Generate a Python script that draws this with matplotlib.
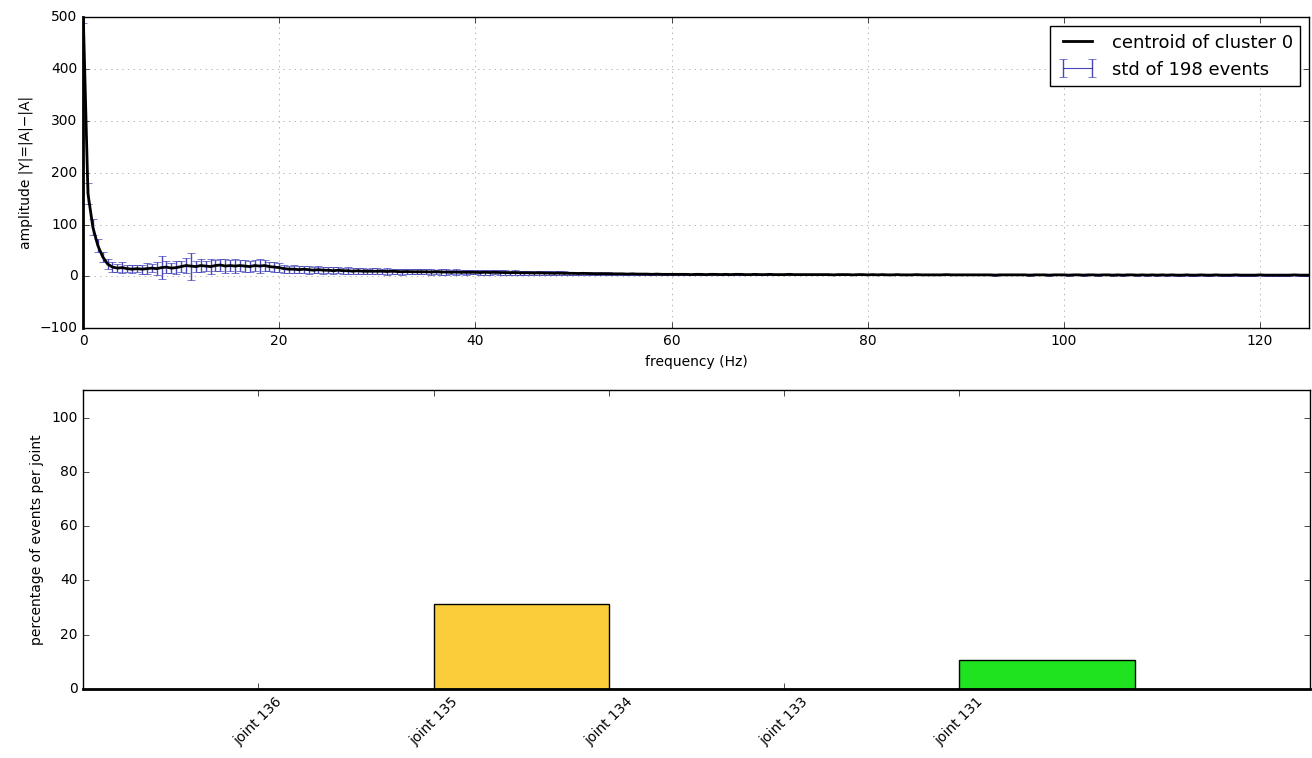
import numpy as np
from matplotlib import pyplot

# frequency axis, 0.5 Hz bins up to 125 Hz
freqs = np.arange(0, 125.5, 0.5)

# centroid amplitude of cluster 0
centroid = [
    520, 160, 95, 60, 38, 24, 18, 16, 17, 15,
    14, 15, 14, 15, 16, 15, 17, 18, 16, 17,
    19, 21, 20, 19, 21, 20, 19, 21, 22, 20,
    21, 20, 21, 20, 19, 21, 20, 21, 19, 18,
    17, 15, 14, 14, 13, 14, 13, 12, 13, 12,
    12, 11, 12, 11, 11, 10, 11, 10, 10, 10,
    10, 10, 9.5, 10, 9.5, 9, 9.5, 9, 9, 9,
    9, 8.5, 9, 8.5, 8.5, 8, 8.5, 8, 8, 8,
    8, 7.5, 8, 7.5, 8, 7.5, 7.5, 7, 7.5, 7,
    7, 7, 6.5, 7, 6.5, 6.5, 6, 6.5, 6, 6,
    6, 5.5, 6, 5.5, 5.5, 5, 5.5, 5, 5, 5,
    5, 4.5, 5, 4.5, 4.5, 4.5, 4, 4.5, 4, 4,
    4, 4, 4, 4, 3.5, 4, 4, 3.5, 4, 4,
    3.5, 4, 3.5, 4, 4, 3.5, 3.5, 4, 3.5, 3.5,
    4, 3.5, 3.5, 3.5, 4, 3.5, 3.5, 3.5, 3.5, 3.5,
    3.5, 3.5, 3.5, 3, 3.5, 3.5, 3.5, 3, 3.5, 3.5,
    3, 3.5, 3, 3.5, 3, 3, 3.5, 3, 3, 3,
    3.5, 3, 3, 3, 3, 3, 3.5, 3, 3, 3,
    3, 3, 3, 3, 3, 3, 2.5, 3, 3, 3,
    3, 3, 3, 2.5, 3, 3, 3, 2.5, 3, 3,
    3, 2.5, 3, 3, 2.5, 3, 3, 2.5, 3, 3,
    2.5, 3, 2.5, 3, 3, 2.5, 3, 2.5, 3, 2.5,
    3, 2.5, 3, 2.5, 2.5, 3, 2.5, 2.5, 3, 2.5,
    2.5, 3, 2.5, 2.5, 2.5, 3, 2.5, 2.5, 2.5, 2.5,
    3, 2.5, 2.5, 2.5, 2.5, 2.5, 2.5, 3, 2.5, 2.5,
    2.5,
]

# std over the 198 events
std = [
    30, 20, 15, 12, 10, 9, 9, 8, 10, 7,
    8, 7, 9, 10, 8, 13, 22, 11, 9, 12,
    10, 15, 26, 11, 13, 10, 14, 11, 12, 13,
    10, 13, 11, 12, 10, 11, 13, 10, 9, 10,
    8, 8, 7, 8, 7, 7, 8, 6, 7, 7,
    6, 7, 6, 6, 7, 6, 6, 6, 5, 6,
    6, 5, 6, 5, 5, 6, 5, 5, 5, 5,
    5, 5, 4, 5, 5, 4, 5, 4, 5, 4,
    4, 4, 5, 4, 4, 4, 4, 4, 5, 4,
    4, 4, 4, 4, 4, 4, 4, 4, 4, 3,
    3, 3, 3, 3, 2, 3, 2, 3, 2, 2,
    2, 2, 2, 1.5, 1.5, 1.5, 1, 1, 1, 1,
    1, 1, 1, 1, 1, 1, 1, 1, 1, 1,
    1, 1, 1, 1, 1, 1, 1, 1, 1, 1,
    1, 1, 1, 1, 1, 1, 1, 1, 1, 1,
    1, 1, 1, 1, 1, 1, 1, 1, 1, 1,
    1, 1, 1, 1, 1, 1, 1, 1, 1, 1,
    1, 1, 1, 1, 1, 1, 1, 1, 1, 1,
    1, 1, 1, 1, 1, 1, 1, 1, 1, 1,
    1, 1, 1, 1, 1, 1, 1, 1, 1, 1,
    1, 1, 1, 1, 1, 1, 1, 1, 1, 1,
    1, 1, 1, 1, 1, 1, 1, 1, 1, 1,
    1, 1, 1, 1, 1, 1, 1, 1, 1, 1,
    1, 1, 1, 1, 1, 1, 1, 1, 1, 1,
    1, 1, 1, 1, 1, 1, 1, 1, 1, 1,
    1,
]

# percentage of the events per joint
joints = ["joint 136", "joint 135", "joint 134", "joint 133", "joint 131"]
percentages = [0, 31.3, 0, 0, 10.6]
bar_colors = ["#e8e030", "#fbcd3b", "#3a7bd5", "#d94c4c", "#1ee31e"]

pyplot.style.use("classic")
pyplot.rcParams["font.family"] = "DejaVu Sans"
pyplot.rcParams["font.size"] = 10

fig = pyplot.figure(figsize=(13.12, 7.58), dpi=100, facecolor="white")

# top: spectrum of the cluster centroid
ax1 = fig.add_axes([0.0633, 0.567, 0.9345, 0.410])
ax1.set_axisbelow(True)
ax1.plot(freqs, centroid, color="black", linewidth=2, zorder=3,
         label="centroid of cluster 0")
ax1.errorbar(freqs, centroid, yerr=std, color="#2828b0", ecolor="#2828b0",
             linewidth=0.8, elinewidth=1, capsize=3, alpha=0.85, zorder=2,
             label="std of 198 events")
ax1.set_xlim(0, 125)
ax1.set_ylim(-100, 500)
ax1.set_xticks(np.arange(0, 121, 20))
ax1.set_yticks(np.arange(-100, 501, 100))
ax1.grid(True, color="0.6", linestyle=":")
ax1.spines["left"].set_linewidth(2)
ax1.set_xlabel("frequency (Hz)", fontsize=10)
ax1.set_ylabel("amplitude |Y|=|A|\u2212|A|", fontsize=10)
ax1.legend(loc="upper right", numpoints=2, fontsize=13, fancybox=False,
           borderaxespad=0.5, handlelength=2.2)

# bottom: share of events per joint
ax2 = fig.add_axes([0.0633, 0.091, 0.935, 0.394])
positions = np.arange(len(joints))
ax2.bar(positions, percentages, width=1, align="edge", color=bar_colors,
        edgecolor="black", linewidth=1)
ax2.set_xlim(-1, 6)
ax2.set_ylim(0, 110)
ax2.set_xticks(positions)
ax2.set_xticklabels(joints, rotation=45, fontsize=10)
ax2.set_yticks(np.arange(0, 101, 20))
ax2.tick_params(labelsize=10)
ax2.spines["bottom"].set_linewidth(2)
ax2.set_ylabel("percentage of events per joint", fontsize=10)

fig.savefig("out.png", dpi=100, facecolor="white")
